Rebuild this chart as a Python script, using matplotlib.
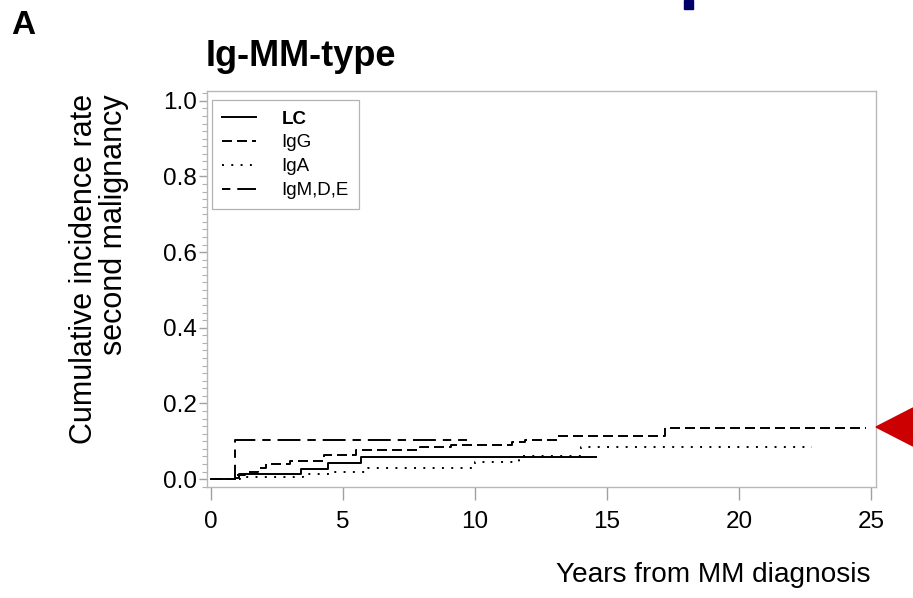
import matplotlib
matplotlib.use('Agg')
import matplotlib.pyplot as plt
from matplotlib.patches import Polygon, Rectangle
from matplotlib.ticker import MultipleLocator

plt.rcParams['font.family'] = ['Liberation Sans', 'DejaVu Sans']
plt.rcParams['lines.scale_dashes'] = False

# step curves (years, cumulative incidence); last point repeats the last value
lc_t = [0, 0.9, 1.05, 3.42, 4.45, 5.7, 14.6]
lc_y = [0, 0.004, 0.014, 0.026, 0.043, 0.059, 0.059]

igg_t = [0, 0.95, 1.3, 1.8, 2.1, 3.0, 4.3, 5.5, 7.9, 9.1, 11.4, 11.9, 13.1, 17.2, 24.8]
igg_y = [0, 0.012, 0.019, 0.030, 0.039, 0.049, 0.063, 0.076, 0.084, 0.091, 0.097,
         0.104, 0.114, 0.135, 0.135]

iga_t = [0, 1.1, 3.5, 4.5, 5.95, 10.0, 11.65, 14.0, 22.75]
iga_y = [0, 0.006, 0.013, 0.020, 0.029, 0.045, 0.062, 0.084, 0.084]

igm_t = [0, 0.93, 9.7]
igm_y = [0, 0.103, 0.103]

x_ticks = [0, 5, 10, 15, 20, 25]
y_ticks = [0.0, 0.2, 0.4, 0.6, 0.8, 1.0]

fig = plt.figure(figsize=(9.13, 5.98), dpi=100)
ax = fig.add_axes([0.2267, 0.1856, 0.7328, 0.6622])

lw = 1.4
ax.step(lc_t, lc_y, where='post', color='black', lw=lw, label='LC')
ax.step(igg_t, igg_y, where='post', color='black', lw=lw,
        dashes=(7.2, 3.6), label='IgG')
ax.step(iga_t, iga_y, where='post', color='black', lw=lw,
        dashes=(1.4, 5.3), label='IgA')
ax.step(igm_t, igm_y, where='post', color='black', lw=lw,
        dashes=(6, 5, 16.5, 5), label='IgM,D,E')

ax.set_xlim(-0.15, 25.19)
ax.set_ylim(-0.021, 1.026)
ax.set_xticks(x_ticks)
ax.set_yticks(y_ticks)
ax.set_yticklabels(['%.1f' % v for v in y_ticks])
ax.yaxis.set_minor_locator(MultipleLocator(0.02))

for s in ax.spines.values():
    s.set_color('#b8b8b8')
    s.set_linewidth(1.0)
ax.tick_params(axis='both', which='major', colors='#a0a0a0', labelcolor='black',
               labelsize=17.5, width=1.0)
ax.tick_params(axis='x', length=9, pad=8)
ax.tick_params(axis='y', length=6, pad=1.5)
ax.tick_params(axis='y', which='minor', length=3.5, colors='#b0b0b0', width=0.8)

ax.set_xlabel('Years from MM diagnosis', fontsize=20.2)
ax.xaxis.set_label_coords(0.991, -0.222)
ax.xaxis.label.set_horizontalalignment('right')
ax.xaxis.label.set_verticalalignment('center')
ax.set_ylabel('Cumulative incidence rate\nsecond malignancy', fontsize=22,
              linespacing=1.0, multialignment='right')
ax.yaxis.set_label_coords(-0.162, 0.55)
ax.yaxis.label.set_verticalalignment('center')

leg = ax.legend(loc='upper left', bbox_to_anchor=(0.0075, 0.977), borderaxespad=0,
                fontsize=13.5, handlelength=1.8, handletextpad=1.35,
                labelspacing=0.36, borderpad=0.55, fancybox=False, frameon=True)
leg.get_frame().set_edgecolor('#a0a0a0')
leg.get_frame().set_linewidth(0.9)
leg.get_texts()[0].set_fontweight('bold')

fig.text(11 / 913, 1 - 25 / 598, 'A', fontsize=24, fontweight='bold', va='center', ha='left')
fig.text(206 / 913, 1 - 56 / 598, 'Ig-MM-type', fontsize=26, fontweight='bold',
         va='center', ha='left')

# red arrowhead marker on the right edge and blue square at the top
fig.patches.append(Polygon([[876 / 913, 1 - 427 / 598], [913 / 913, 1 - 408 / 598],
                            [913 / 913, 1 - 446 / 598]], closed=True,
                           transform=fig.transFigure, color='#cc0000'))
fig.patches.append(Rectangle((684 / 913, 1 - 9 / 598), 9 / 913, 9 / 598,
                             transform=fig.transFigure, color='#000066'))

fig.savefig('out.png', dpi=100)
